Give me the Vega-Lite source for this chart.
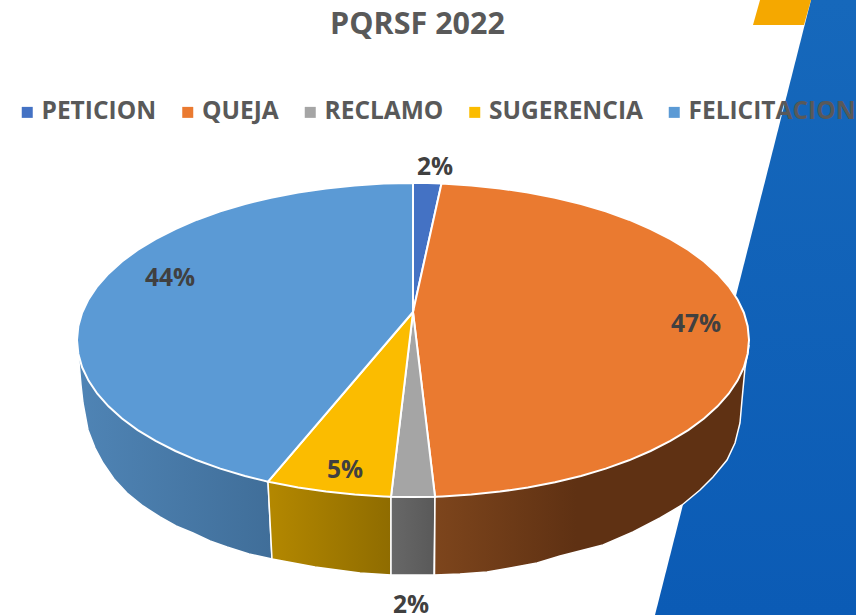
{
"$schema":"https://vega.github.io/schema/vega-lite/v6.json",
"width":856,"height":615,"padding":0,"autosize":{"type":"none"},
"background":"white",
"view":{"stroke":null},
"config":{"view":{"stroke":null}},
"projection":{"type":"identity","scale":1,"translate":[0,0]},
"layer":[
{"data":{"values":[{"type":"Feature","properties":{"name":"blue band"},"geometry":{"type":"Polygon","coordinates":[[[811,0],[856,0],[856,615],[655,615],[811,0]]]}}]},
"mark":{"type":"geoshape","stroke":null,"fill":{"gradient":"linear","x1":0,"y1":0,"x2":0,"y2":1,"stops":[{"offset":0,"color":"#1668bb"},{"offset":1,"color":"#0b5bb5"}]}}},
{"data":{"values":[{"type":"Feature","properties":{"name":"gold band"},"geometry":{"type":"Polygon","coordinates":[[[760,0],[811,0],[804,25],[753,25],[760,0]]]}}]},
"mark":{"type":"geoshape","stroke":null,"fill":"#f5a800"}},
{"data":{"values":[{"type":"Feature","properties":{"slice":"FELICITACION"},"geometry":{"type":"Polygon","coordinates":[[[78,345],[79,362],[81,385],[83,403],[88,430],[95,448],[103,463],[114,479],[127,493],[143,506],[160,517],[176,526],[193,533],[210,541],[227,547],[249,554],[272,559],[268,481.6],[197,460],[122,418],[78,345]]]}}]},
"mark":{"type":"geoshape","stroke":"#ffffff","strokeWidth":1.5,"fill":{"gradient":"linear","x1":0,"y1":0,"x2":1,"y2":0,"stops":[{"offset":0,"color":"#4f84b5"},{"offset":1,"color":"#406e99"}]}}},
{"data":{"values":[{"type":"Feature","properties":{"slice":"SUGERENCIA"},"geometry":{"type":"Polygon","coordinates":[[[268,481.6],[272,559],[315,567],[360,573],[391,575],[391,496.7],[330,490],[268,481.6]]]}}]},
"mark":{"type":"geoshape","stroke":"#ffffff","strokeWidth":1.5,"fill":{"gradient":"linear","x1":0,"y1":0,"x2":1,"y2":0,"stops":[{"offset":0,"color":"#b48800"},{"offset":1,"color":"#8f6c00"}]}}},
{"data":{"values":[{"type":"Feature","properties":{"slice":"RECLAMO"},"geometry":{"type":"Polygon","coordinates":[[[391,496.7],[391,575],[434,575],[435,496.7],[391,496.7]]]}}]},
"mark":{"type":"geoshape","stroke":"#ffffff","strokeWidth":1.5,"fill":{"gradient":"linear","x1":0,"y1":0,"x2":1,"y2":0,"stops":[{"offset":0,"color":"#686868"},{"offset":1,"color":"#595959"}]}}},
{"data":{"values":[{"type":"Feature","properties":{"slice":"QUEJA"},"geometry":{"type":"Polygon","coordinates":[[[435,496.7],[434.5,575],[460,574],[487,572],[510,568],[537,563],[560,556],[603,545],[633,532],[660,518],[682,505],[700,490],[713,477],[727,460],[735,443],[740,423],[742,400],[745,368],[749,345],[704,418],[600,470],[435,496.7]]]}}]},
"mark":{"type":"geoshape","stroke":"#ffffff","strokeWidth":1.5,"fill":{"gradient":"linear","x1":0,"y1":0,"x2":1,"y2":0,"stops":[{"offset":0,"color":"#7d451c"},{"offset":0.45,"color":"#5f3113"},{"offset":1,"color":"#5f3113"}]}}},
{"data":{"values":[
{"type":"Feature","properties":{"slice":"PETICION","share":0.02},"geometry":{"type":"Polygon","coordinates":[[[413,312],[413,183],[427.6,183.1],[441.5,183.5],[413,312]]]}},
{"type":"Feature","properties":{"slice":"QUEJA","share":0.47},"geometry":{"type":"Polygon","coordinates":[[[413,312],[441.5,183.5],[471.3,185.4],[500,188.4],[527.9,192.5],[555,197.7],[581,204],[605.7,211.4],[629,219.7],[650.6,229],[670.4,239.1],[688.3,249.9],[704,261.5],[717.5,273.7],[728.7,286.3],[737.5,299.4],[743.9,312.7],[747.7,326.3],[749,340],[747.7,353.7],[743.9,367.3],[737.5,380.6],[728.7,393.7],[717.5,406.3],[704,418.5],[688.3,430.1],[670.4,440.9],[650.6,451],[629,460.3],[605.7,468.6],[581,476],[555,482.3],[527.9,487.5],[500,491.6],[471.3,494.6],[442.3,496.4],[435,496.7],[413,312]]]}},
{"type":"Feature","properties":{"slice":"RECLAMO","share":0.02},"geometry":{"type":"Polygon","coordinates":[[[413,312],[435,496.7],[413,497],[391,496.7],[413,312]]]}},
{"type":"Feature","properties":{"slice":"SUGERENCIA","share":0.05},"geometry":{"type":"Polygon","coordinates":[[[413,312],[391,496.7],[383.7,496.4],[354.7,494.6],[326,491.6],[298.1,487.5],[271,482.3],[268,481.6],[413,312]]]}},
{"type":"Feature","properties":{"slice":"FELICITACION","share":0.44},"geometry":{"type":"Polygon","coordinates":[[[413,312],[268,481.6],[245,476],[220.3,468.6],[197,460.3],[175.4,451],[155.6,440.9],[137.7,430.1],[122,418.5],[108.5,406.3],[97.3,393.7],[88.5,380.6],[82.1,367.3],[78.3,353.7],[77,340],[78.3,326.3],[82.1,312.7],[88.5,299.4],[97.3,286.3],[108.5,273.7],[122,261.5],[137.7,249.9],[155.6,239.1],[175.4,229],[197,219.7],[220.3,211.4],[245,204],[271,197.7],[298.1,192.5],[326,188.4],[354.7,185.4],[383.7,183.6],[413,183],[413,312]]]}}
]},
"mark":{"type":"geoshape","stroke":"#ffffff","strokeWidth":2},
"encoding":{"color":{"field":"properties.slice","type":"nominal",
"scale":{"domain":["PETICION","QUEJA","RECLAMO","SUGERENCIA","FELICITACION"],"range":["#4472c4","#ea7a30","#a5a5a5","#fbbc00","#5b9ad5"]},
"legend":{"title":null,"orient":"none","legendX":15,"legendY":100,"direction":"horizontal","columns":5,"symbolType":"square","symbolSize":121,"symbolStrokeWidth":0,"symbolOpacity":1,"labelFont":"Open Sans","labelFontWeight":"bold","labelFontSize":24.5,"labelColor":"#595959","labelLimit":300,"labelOffset":2,"columnPadding":18.5}}}},
{"data":{"values":[
{"slice":"PETICION","share":0.02,"lon":435,"lat":168},
{"slice":"QUEJA","share":0.47,"lon":696,"lat":325},
{"slice":"RECLAMO","share":0.02,"lon":411,"lat":606},
{"slice":"SUGERENCIA","share":0.05,"lon":345,"lat":471},
{"slice":"FELICITACION","share":0.44,"lon":170,"lat":279}
]},
"mark":{"type":"text","font":"Open Sans","fontWeight":"bold","fontSize":24.5,"color":"#404040","align":"center","baseline":"middle"},
"encoding":{"longitude":{"field":"lon","type":"quantitative"},"latitude":{"field":"lat","type":"quantitative"},"text":{"field":"share","type":"quantitative","format":".0%"}}},
{"data":{"values":[{"label":"PQRSF 2022","lon":417.5,"lat":25}]},
"mark":{"type":"text","font":"Open Sans","fontWeight":"bold","fontSize":30.5,"color":"#595959","align":"center","baseline":"middle"},
"encoding":{"longitude":{"field":"lon","type":"quantitative"},"latitude":{"field":"lat","type":"quantitative"},"text":{"field":"label","type":"nominal"}}}
]
}
